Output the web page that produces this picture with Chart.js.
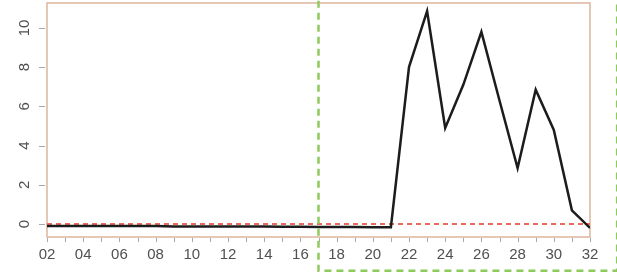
<!DOCTYPE html>
<html>
<head>
<meta charset="utf-8">
<script src="https://cdn.jsdelivr.net/npm/chart.js@4"></script>
<style>
  html, body { margin: 0; padding: 0; background: #ffffff; }
  canvas { display: block; }
</style>
</head>
<body>
<canvas id="chart" width="617" height="277"></canvas>
<script>
// days on the x axis, and the series
const days = [2, 3, 4, 5, 6, 7, 8, 9, 10, 11, 12, 13, 14, 15, 16, 17, 18, 19, 20, 21,
              22, 23, 24, 25, 26, 27, 28, 29, 30, 31, 32];
const values = [-0.1, -0.1, -0.1, -0.1, -0.1, -0.1, -0.1, -0.12, -0.12, -0.12, -0.13,
                -0.13, -0.13, -0.14, -0.14, -0.15, -0.15, -0.15, -0.16, -0.16,
                8.0, 10.85, 4.9, 7.1, 9.8, 6.3, 2.85, 6.85, 4.8, 0.7, -0.2];
const thresholdDays = [2, 32];
const thresholdValues = [0, 0];
const xTickValues = [2, 3, 4, 5, 6, 7, 8, 9, 10, 11, 12, 13, 14, 15, 16, 17, 18, 19, 20,
                     21, 22, 23, 24, 25, 26, 27, 28, 29, 30, 31, 32];
const yTickValues = [0, 2, 4, 6, 8, 10];
// highlighted window (green dashed box), in data units
const windowX = [17, 33.5];
const windowY = [-2.38, 12];

const FONT_FAMILY = "'Liberation Sans', Arial, sans-serif";
const LABEL_COLOR = "#505050";

const frameAndLabels = {
    id: "frameAndLabels",
    beforeDatasetsDraw(chart) {
        const { ctx, chartArea: a } = chart;
        const x = chart.scales.x;
        const y = chart.scales.y;
        ctx.save();
        ctx.strokeStyle = "#dcb59c";
        ctx.lineWidth = 1.5;
        ctx.strokeRect(a.left, a.top, a.right - a.left, a.bottom - a.top);

        // R-style tick marks outside the frame
        ctx.strokeStyle = "#a8a8a8";
        ctx.lineWidth = 1;
        ctx.beginPath();
        yTickValues.forEach((v) => {
            const py = Math.round(y.getPixelForValue(v)) + 0.5;
            ctx.moveTo(a.left - 8, py);
            ctx.lineTo(a.left - 2, py);
        });
        xTickValues.forEach((v) => {
            const px = Math.round(x.getPixelForValue(v)) + 0.5;
            ctx.moveTo(px, a.bottom + 1);
            ctx.lineTo(px, a.bottom + 5);
        });
        ctx.stroke();
        ctx.restore();
    },
    afterDatasetsDraw(chart) {
        const { ctx } = chart;
        const x = chart.scales.x;
        const y = chart.scales.y;

        // rotated y tick labels
        ctx.save();
        ctx.font = "15px " + FONT_FAMILY;
        ctx.fillStyle = LABEL_COLOR;
        ctx.textAlign = "center";
        ctx.textBaseline = "middle";
        yTickValues.forEach((v) => {
            ctx.save();
            ctx.translate(25, y.getPixelForValue(v));
            ctx.rotate(-Math.PI / 2);
            ctx.fillText(String(v), 0, 0);
            ctx.restore();
        });
        ctx.restore();

        // green dashed window
        const left = x.getPixelForValue(windowX[0]);
        const right = x.getPixelForValue(windowX[1]);
        const bottom = y.getPixelForValue(windowY[0]);
        const top = y.getPixelForValue(windowY[1]);
        ctx.save();
        ctx.strokeStyle = "#8fca5c";
        ctx.lineWidth = 2.5;
        ctx.setLineDash([7, 5]);
        ctx.beginPath();
        ctx.moveTo(left, top);
        ctx.lineTo(left, bottom);
        ctx.lineTo(right, bottom);
        ctx.lineTo(right, top);
        ctx.stroke();
        ctx.restore();
    },
};

new Chart(document.getElementById("chart"), {
    type: "line",
    data: {
        datasets: [
            {
                label: "series",
                data: days.map((d, i) => ({ x: d, y: values[i] })),
                borderColor: "#1c1c1c",
                borderWidth: 2.5,
                pointRadius: 0,
                tension: 0,
                fill: false,
            },
            {
                label: "zero",
                data: thresholdDays.map((d, i) => ({ x: d, y: thresholdValues[i] })),
                borderColor: "#ec6a5c",
                borderWidth: 2,
                borderDash: [5, 4],
                pointRadius: 0,
                fill: false,
            },
        ],
    },
    options: {
        responsive: false,
        animation: false,
        devicePixelRatio: 1,
        layout: { padding: { top: 3, right: 27, left: 0, bottom: 0 } },
        plugins: { legend: { display: false }, tooltip: { enabled: false } },
        scales: {
            x: {
                type: "linear",
                min: 2,
                max: 32,
                afterBuildTicks: (s) => { s.ticks = xTickValues.map((v) => ({ value: v })); },
                afterFit: (s) => { s.height = 40; },
                border: { display: false },
                grid: { display: false },
                ticks: {
                    autoSkip: false,
                    maxRotation: 0,
                    padding: 1,
                    color: LABEL_COLOR,
                    font: { family: FONT_FAMILY, size: 15 },
                    callback: (v) => (v % 2 === 0 ? String(v).padStart(2, "0") : ""),
                },
            },
            y: {
                min: -0.66,
                max: 11.27,
                afterBuildTicks: (s) => { s.ticks = yTickValues.map((v) => ({ value: v })); },
                afterFit: (s) => { s.width = 47; },
                border: { display: false },
                grid: { display: false },
                // labels are drawn rotated by the plugin
                ticks: { display: false },
            },
        },
    },
    plugins: [frameAndLabels],
});
</script>
</body>
</html>
